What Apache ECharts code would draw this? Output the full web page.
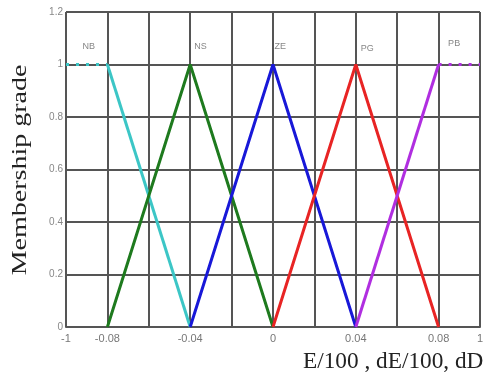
<!DOCTYPE html>
<html><head><meta charset="utf-8">
<script src="https://cdn.jsdelivr.net/npm/echarts@6/dist/echarts.min.js"></script>
<style>html,body{margin:0;padding:0;background:#fff}#c{width:486px;height:377px}</style>
</head><body><div id="c"></div>
<script>
// Data
const setNames = ["NB","NS","ZE","PG","PB"];
const setColors = ["#3cc6c6","#1e7a1e","#1818d8","#e82424","#b02ee0"];
const nbX = [-0.08,-0.04], nbY = [1,0];
const nsX = [-0.08,-0.04,0], nsY = [0,1,0];
const zeX = [-0.04,0,0.04], zeY = [0,1,0];
const pgX = [0,0.04,0.08], pgY = [0,1,0];
const pbX = [0.04,0.08], pbY = [0,1];
const nbExtX = [-0.1,-0.08], nbExtY = [1,1];
const pbExtX = [0.08,0.1], pbExtY = [1,1];
const labelX = [-0.089,-0.035,0.0035,0.0455,0.0875];
const labelY = [1.07,1.07,1.07,1.06,1.08];
const xTickLabels = ["-1","-0.08","","-0.04","","0","","0.04","","0.08","1"];
const yTickLabels = ["0","0.2","0.4","0.6","0.8","1","1.2"];
const xTitle = "E/100 , dE/100, dD";
const yTitle = "Membership grade";

const zip = (xs, ys) => xs.map((x, i) => [x, ys[i]]);
const chart = echarts.init(document.getElementById('c'), null, {renderer:'canvas'});
const solid = [zip(nbX,nbY), zip(nsX,nsY), zip(zeX,zeY), zip(pgX,pgY), zip(pbX,pbY)];
const series = solid.map((d, i) => ({
  type:'line', data:d, symbol:'none', z: 3,
  lineStyle:{color:setColors[i], width:3}
}));
series.push({type:'line', data:zip(nbExtX,nbExtY), symbol:'none', lineStyle:{color:setColors[0], width:3, type:[3,7]}});
series.push({type:'line', data:zip(pbExtX,pbExtY), symbol:'none', lineStyle:{color:setColors[4], width:3, type:[3,7]}});
series.push({type:'scatter', symbolSize:0, data: labelX.map((x,i)=>({value:[x,labelY[i]], name:setNames[i]})),
  label:{show:true, position:'inside', formatter:p=>p.name, color:'#666', fontSize:9, fontFamily:'Liberation Sans'}});

chart.setOption({
  animation:false,
  backgroundColor:'#fff',
  grid:{left:66, right:6, top:12, bottom:50, containLabel:false, outerBoundsMode:'none'},
  xAxis:{
    type:'value', min:-0.1, max:0.1, interval:0.02,
    axisLine:{show:true, lineStyle:{color:'#555', width:2}},
    axisTick:{show:false},
    splitLine:{show:true, lineStyle:{color:'#555', width:2}},
    axisLabel:{color:'#777', fontSize:11, fontFamily:'Liberation Sans', margin:6,
      formatter:v=>xTickLabels[Math.round((v+0.1)/0.02)] }
  },
  yAxis:{
    type:'value', min:0, max:1.2, interval:0.2,
    axisLine:{show:true, lineStyle:{color:'#555', width:2}},
    axisTick:{show:false},
    splitLine:{show:true, lineStyle:{color:'#555', width:2}},
    axisLabel:{color:'#888', fontSize:10, fontFamily:'Liberation Sans', margin:3,
      formatter:v=>yTickLabels[Math.round(v/0.2)] }
  },
  graphic:[
    {type:'text', x:303, y:362, scaleX:0.97, style:{text:xTitle, font:'24px "Liberation Serif"', fill:'#222', align:'left', verticalAlign:'middle'}},
    {type:'text', x:21, y:170, rotation:Math.PI/2, scaleX:1.4, style:{text:yTitle, font:'20px "Liberation Serif"', fill:'#222', align:'center', verticalAlign:'middle'}}
  ],
  series
});
</script></body></html>
